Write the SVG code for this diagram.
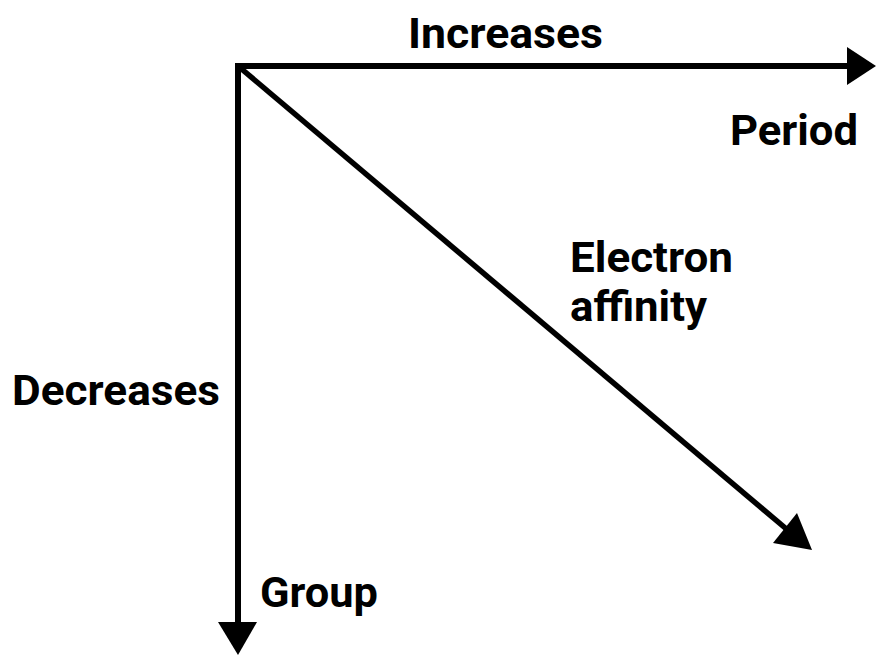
<svg xmlns="http://www.w3.org/2000/svg" width="876" height="655" viewBox="0 0 876 655">
<style>
text{font-family:Roboto,"Liberation Sans",sans-serif;font-weight:700;font-size:43px;fill:#000}
.ln{stroke:#000;stroke-width:6;fill:none}
.hd{fill:#000}
</style>
<rect width="876" height="655" fill="#fff"/>
<g id="connectors">
<line class="ln" x1="238" y1="66" x2="850" y2="66"/>
<polygon class="hd" points="847,47 876,66 847,85"/>
<line class="ln" x1="238" y1="63" x2="238" y2="625"/>
<polygon class="hd" points="218,622 257,622 238,655"/>
<line class="ln" x1="238" y1="66" x2="790" y2="532" style="stroke-width:5.5"/>
<polygon class="hd" points="797,513 812,550 773,543"/>
</g>
<g id="label-increases"><text x="408" y="48" textLength="195" lengthAdjust="spacingAndGlyphs">Increases</text></g>
<g id="label-period"><text x="730" y="145" textLength="128" lengthAdjust="spacingAndGlyphs">Period</text></g>
<g id="label-electron-affinity"><text x="570" y="272" textLength="163" lengthAdjust="spacingAndGlyphs">Electron</text><text x="570" y="321" textLength="137" lengthAdjust="spacingAndGlyphs">affinity</text></g>
<g id="label-decreases"><text x="12" y="405" textLength="208" lengthAdjust="spacingAndGlyphs">Decreases</text></g>
<g id="label-group"><text x="260" y="607" textLength="118" lengthAdjust="spacingAndGlyphs">Group</text></g>
</svg>
